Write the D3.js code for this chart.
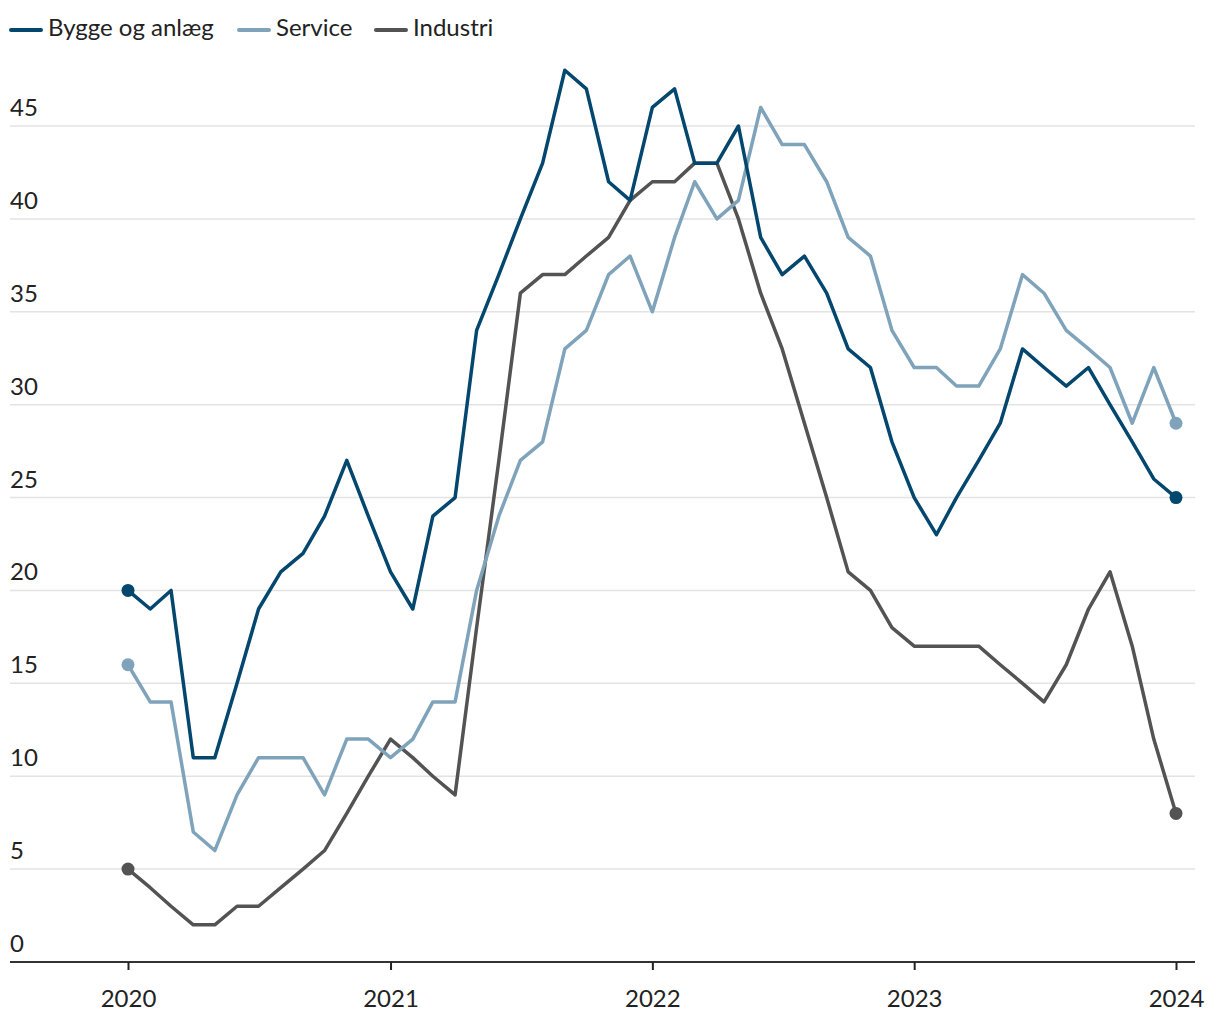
<!DOCTYPE html>
<html>
<head>
<meta charset="utf-8">
<script src="https://cdn.jsdelivr.net/npm/d3@7"></script>
<style>
  body { margin: 0; background: #fff; }
  svg { font-family: Lato, "Open Sans", sans-serif; }
</style>
</head>
<body>
<div id="chart"></div>
<script>
// monthly, jan 2020 - jan 2024
const startMonth = new Date(2020, 0, 1);
const months = d3.range(49).map(i => d3.timeMonth.offset(startMonth, i));

const bygge = [20, 19, 20, 11, 11, 15, 19, 21, 22, 24, 27, 24,
    21, 19, 24, 25, 34, 37, 40, 43, 48, 47, 42, 41,
    46, 47, 43, 43, 45, 39, 37, 38, 36, 33, 32, 28,
    25, 23, 25, 27, 29, 33, 32, 31, 32, 30, 28, 26,
    25];
const service = [16, 14, 14, 7, 6, 9, 11, 11, 11, 9, 12, 12,
    11, 12, 14, 14, 20, 24, 27, 28, 33, 34, 37, 38,
    35, 39, 42, 40, 41, 46, 44, 44, 42, 39, 38, 34,
    32, 32, 31, 31, 33, 37, 36, 34, 33, 32, 29, 32,
    29];
const industri = [5, 4, 3, 2, 2, 3, 3, 4, 5, 6, 8, 10,
    12, 11, 10, 9, 18, 27, 36, 37, 37, 38, 39, 41,
    42, 42, 43, 43, 40, 36, 33, 29, 25, 21, 20, 18,
    17, 17, 17, 17, 16, 15, 14, 16, 19, 21, 17, 12,
    8];

const seriesNames = ['Bygge og anlæg', 'Service', 'Industri'];
const seriesValues = [bygge, service, industri];
const colors = ['#03466e', '#7fa3ba', '#535353'];
const yTicks = [0, 5, 10, 15, 20, 25, 30, 35, 40, 45];
const xTicks = [2020, 2021, 2022, 2023, 2024].map(y => new Date(y, 0, 1));

const width = 1220, height = 1020;
const svg = d3.select('#chart').append('svg')
    .attr('width', width)
    .attr('height', height);

const x = d3.scaleTime()
    .domain([startMonth, new Date(2024, 0, 1)])
    .range([128, 1176]);
const y = d3.scaleLinear()
    .domain([0, 45])
    .range([962, 126]);

// grid + y labels
const grid = svg.append('g');
grid.selectAll('line')
    .data(yTicks.filter(d => d > 0))
    .enter().append('line')
    .attr('x1', 10).attr('x2', 1195)
    .attr('y1', d => y(d)).attr('y2', d => y(d))
    .attr('stroke', '#e3e3e3')
    .attr('stroke-width', 1.5);
grid.selectAll('text')
    .data(yTicks)
    .enter().append('text')
    .attr('x', 10)
    .attr('y', d => y(d) - 10)
    .attr('font-size', 24)
    .attr('fill', '#222')
    .text(d => d);

// x axis
const xAxis = svg.append('g')
    .attr('transform', 'translate(0,' + y(0) + ')')
    .call(d3.axisBottom(x).tickValues(xTicks).tickFormat(d3.timeFormat('%Y')).tickSize(8).tickPadding(20));
xAxis.select('.domain').remove();
xAxis.insert('line', ':first-child')
    .attr('x1', 10).attr('x2', 1195)
    .attr('stroke', '#333').attr('stroke-width', 2);
xAxis.selectAll('.tick line').attr('stroke', '#222').attr('stroke-width', 2);
xAxis.selectAll('.tick text')
    .attr('font-size', 24)
    .attr('font-family', 'Lato, sans-serif')
    .attr('fill', '#222');

// lines
const line = d3.line()
    .x((d, i) => x(months[i]))
    .y(d => y(d));

[2, 1, 0].forEach(k => {
    const vals = seriesValues[k];
    svg.append('path')
        .datum(vals)
        .attr('d', line)
        .attr('fill', 'none')
        .attr('stroke', colors[k])
        .attr('stroke-width', 3.5)
        .attr('stroke-linejoin', 'round');
    svg.selectAll('.dot' + k)
        .data([0, vals.length - 1])
        .enter().append('circle')
        .attr('cx', i => x(months[i]))
        .attr('cy', i => y(vals[i]))
        .attr('r', 6.5)
        .attr('fill', colors[k]);
});

// legend
const legendX = [10, 238, 375];
const legend = svg.append('g');
seriesNames.forEach((name, k) => {
    const g = legend.append('g').attr('transform', 'translate(' + legendX[k] + ',0)');
    g.append('line')
        .attr('x1', 1).attr('x2', 31)
        .attr('y1', 30).attr('y2', 30)
        .attr('stroke', colors[k])
        .attr('stroke-width', 4)
        .attr('stroke-linecap', 'round');
    g.append('text')
        .attr('x', 38).attr('y', 36)
        .attr('font-size', 24)
        .attr('fill', '#222')
        .text(name);
});
</script>
</body>
</html>
